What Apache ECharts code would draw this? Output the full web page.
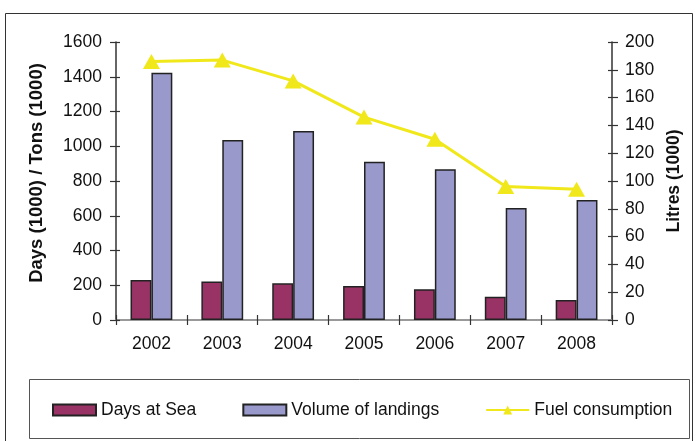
<!DOCTYPE html>
<html>
<head>
<meta charset="utf-8">
<script src="https://cdn.jsdelivr.net/npm/echarts@6/dist/echarts.min.js"></script>
<style>
html,body{margin:0;padding:0;background:#fff;}
#chart{width:698px;height:441px;}
</style>
</head>
<body>
<div id="chart"></div>
<script>
var years = ['2002', '2003', '2004', '2005', '2006', '2007', '2008'];
var daysAtSea = [230, 221, 211, 196, 177, 134, 115];
var volumeOfLandings = [1423, 1036, 1088, 911, 867, 645, 691];
var fuelConsumption = [186, 187, 172, 146, 130, 96, 94];
var leftTicks = {min: 0, max: 1600, interval: 200};
var rightTicks = {min: 0, max: 200, interval: 20};

var FONT = '"Liberation Sans", Arial, sans-serif';
var chart = echarts.init(document.getElementById('chart'), null, {renderer: 'canvas'});

function yAx(pos, t, withLabels, inside, name) {
  return {
    type: 'value', position: pos, min: t.min, max: t.max, interval: t.interval,
    name: name || '', nameLocation: 'middle',
    nameGap: pos === 'left' ? 70 : 52,
    nameTextStyle: {fontFamily: FONT, fontSize: pos === 'left' ? 18.5 : 17.5, fontWeight: 'bold', color: '#111',
      padding: pos === 'left' ? [0, 0, 0, 16] : 0},
    axisLine: {show: withLabels, lineStyle: {color: '#333', width: 1.5}},
    axisTick: {show: true, inside: inside, length: inside ? 4 : 6, lineStyle: {color: '#333', width: 1.2}},
    axisLabel: {show: withLabels, fontFamily: FONT, fontSize: 17.5, color: '#111', margin: pos === 'left' ? 14 : 13,
      formatter: function (v) { return String(v); }},
    splitLine: {show: false}
  };
}

var option = {
  animation: false,
  backgroundColor: '#fff',
  grid: {left: 116, right: 86, top: 42, bottom: 121, containLabel: false},
  legend: {
    show: true,
    left: 52, top: 401, padding: 0,
    itemWidth: 43, itemHeight: 11, itemGap: 46,
    textStyle: {fontFamily: FONT, fontSize: 17.5, color: '#111'},
    data: [
      {name: 'Days at Sea', icon: 'rect'},
      {name: 'Volume of landings', icon: 'rect'},
      {name: 'Fuel consumption'}
    ]
  },
  xAxis: [
    {
      type: 'category', data: years, position: 'bottom',
      axisLine: {lineStyle: {color: '#333', width: 1.5}},
      axisTick: {show: true, length: 5, lineStyle: {color: '#333', width: 1.2}},
      axisLabel: {fontFamily: FONT, fontSize: 17.5, color: '#111', margin: 15},
      splitLine: {show: false}
    },
    {
      type: 'category', data: years, position: 'bottom',
      axisLine: {show: false},
      axisTick: {show: true, inside: true, length: 5, lineStyle: {color: '#333', width: 1.2}},
      axisLabel: {show: false}, splitLine: {show: false}
    },
    {
      type: 'category', data: years, position: 'top',
      axisLine: {show: true, lineStyle: {color: '#999', width: 2}},
      axisTick: {show: false}, axisLabel: {show: false}, splitLine: {show: false}
    }
  ],
  yAxis: [
    yAx('left', leftTicks, true, false, 'Days (1000) / Tons (1000)'),
    yAx('right', rightTicks, true, false, 'Litres (1000)'),
    yAx('left', leftTicks, false, true),
    yAx('right', rightTicks, false, true)
  ],
  series: [
    {
      name: 'Days at Sea', type: 'bar', data: daysAtSea, xAxisIndex: 0, yAxisIndex: 0,
      barGap: '0%', barCategoryGap: '41%',
      itemStyle: {color: '#993366', borderColor: '#222', borderWidth: 1.5}
    },
    {
      name: 'Volume of landings', type: 'bar', data: volumeOfLandings, xAxisIndex: 0, yAxisIndex: 0,
      barGap: '0%', barCategoryGap: '41%',
      itemStyle: {color: '#9999CC', borderColor: '#222', borderWidth: 1.5}
    },
    {
      name: 'Fuel consumption', type: 'line', data: fuelConsumption, xAxisIndex: 0, yAxisIndex: 1,
      symbol: 'triangle', symbolSize: [17, 15], showAllSymbol: true,
      lineStyle: {color: '#F0E81A', width: 3},
      itemStyle: {color: '#F0E81A', borderWidth: 0}
    }
  ],
  graphic: [
    {type: 'rect', z: -1, shape: {x: 5.5, y: 13.5, width: 687, height: 440},
      style: {fill: 'none', stroke: '#333', lineWidth: 1}},
    {type: 'rect', z: -1, shape: {x: 29.5, y: 379.5, width: 660, height: 59},
      style: {fill: 'none', stroke: '#555', lineWidth: 1}}
  ]
};
chart.setOption(option);
</script>
</body>
</html>
